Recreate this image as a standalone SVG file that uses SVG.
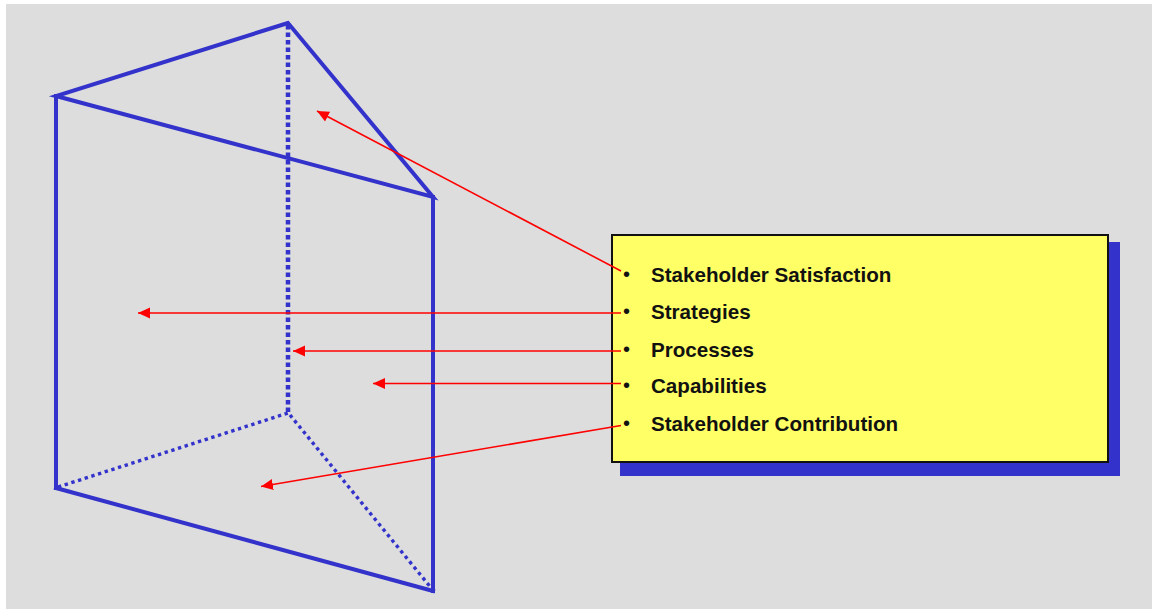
<svg xmlns="http://www.w3.org/2000/svg" width="1153" height="609" viewBox="0 0 1153 609">
  <style>
    .edge { fill: none; stroke: #3333cc; stroke-width: 4; stroke-linecap: square; }
    .hidden-v { fill: none; stroke: #3333cc; stroke-width: 4.5; stroke-dasharray: 4.5 3; }
    .hidden { fill: none; stroke: #3333cc; stroke-width: 3.4; stroke-dasharray: 3.4 3.6; }
    .link { fill: none; stroke: #ff0000; stroke-width: 1.6; }
    .item { font-family: "Liberation Sans", Arial, sans-serif; font-size: 20.6px; font-weight: bold; fill: #111111; }
    .bullet { font-family: "Liberation Sans", Arial, sans-serif; font-size: 20px; fill: #111111; }
  </style>
  <defs>
    <marker id="arrow" viewBox="0 0 12 12" refX="12" refY="6" markerWidth="12" markerHeight="12" markerUnits="userSpaceOnUse" orient="auto">
      <path d="M0,0.5 L12,6 L0,11.5 Z" fill="#ff0000"/>
    </marker>
  </defs>

  <!-- page background -->
  <rect x="6" y="4" width="1146" height="605" fill="#dddddd"/>

  <!-- triangular prism wireframe -->
  <g id="prism">
    <!-- hidden back edges -->
    <line class="hidden-v" x1="288" y1="25" x2="288" y2="413"/>
    <line class="hidden" x1="58" y1="487" x2="288" y2="413"/>
    <line class="hidden" x1="290" y1="415" x2="432" y2="589"/>
    <!-- visible edges -->
    <polygon class="edge" points="288,23 56,96 433,197"/>
    <line class="edge" x1="56" y1="96" x2="56" y2="488"/>
    <line class="edge" x1="433" y1="197" x2="433" y2="591"/>
    <line class="edge" x1="56" y1="488" x2="433" y2="591"/>
  </g>

  <!-- callout box with list -->
  <g id="legend">
    <rect x="620" y="242" width="500" height="234" fill="#3333cc"/>
    <rect x="612" y="235" width="496" height="227" fill="#ffff66" stroke="#111111" stroke-width="2"/>
    <text class="bullet" x="623" y="281">•</text>
    <text class="item" x="651" y="282">Stakeholder Satisfaction</text>
    <text class="bullet" x="623" y="318">•</text>
    <text class="item" x="651" y="319">Strategies</text>
    <text class="bullet" x="623" y="356">•</text>
    <text class="item" x="651" y="357">Processes</text>
    <text class="bullet" x="623" y="392">•</text>
    <text class="item" x="651" y="393">Capabilities</text>
    <text class="bullet" x="623" y="430">•</text>
    <text class="item" x="651" y="431">Stakeholder Contribution</text>
  </g>

  <!-- pointers from list items into the prism -->
  <g id="connectors">
    <line class="link" x1="621" y1="271" x2="317" y2="111" marker-end="url(#arrow)"/>
    <line class="link" x1="621" y1="313" x2="138" y2="313" marker-end="url(#arrow)"/>
    <line class="link" x1="621" y1="351" x2="293" y2="351" marker-end="url(#arrow)"/>
    <line class="link" x1="621" y1="383.5" x2="373" y2="383.5" marker-end="url(#arrow)"/>
    <line class="link" x1="621" y1="425.5" x2="261" y2="486.5" marker-end="url(#arrow)"/>
  </g>
</svg>
